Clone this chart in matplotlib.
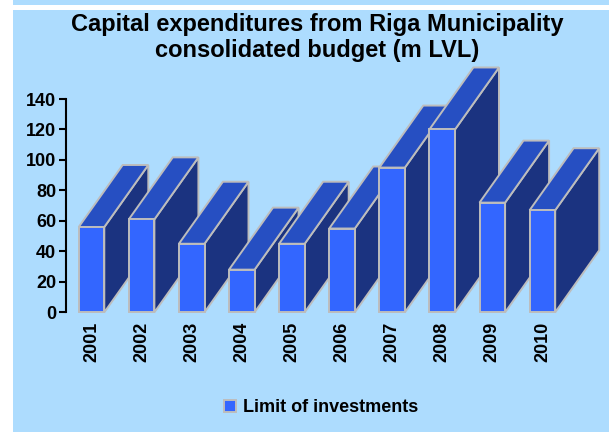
import matplotlib
matplotlib.use('Agg')
import matplotlib.pyplot as plt
from matplotlib.patches import Polygon, Rectangle, Patch

plt.rcParams['font.family'] = ['Liberation Sans', 'DejaVu Sans']
plt.rcParams['font.weight'] = 'bold'

# data
years = ['2001', '2002', '2003', '2004', '2005', '2006', '2007', '2008', '2009', '2010']
values = [56, 61, 45, 28, 45, 55, 95, 120, 72, 67]
series_name = 'Limit of investments'
title = 'Capital expenditures from Riga Municipality\nconsolidated budget (m LVL)'

W, H = 609, 432
bg = '#ADDCFE'
c_front = '#3366FF'
c_top = '#264FC2'
c_side = '#1B3380'
c_edge = '#BDBDBD'

fig = plt.figure(figsize=(W / 100, H / 100), dpi=100)
fig.patch.set_facecolor('white')

# background panels (figure pixel coords -> fractions)
def fig_rect(x0, y0, x1, y1, color):
    fig.patches.append(Rectangle((x0 / W, 1 - y1 / H), (x1 - x0) / W, (y1 - y0) / H,
                                 transform=fig.transFigure, facecolor=color,
                                 edgecolor='none', zorder=-10))

fig_rect(13, 0, W, 4.7, bg)
fig_rect(13, 9.7, W, H, bg)

# axes geometry
px_per_x = 50.1          # one bar step
px_per_y = 1.5235        # pixels per unit
y0_px = 312.3
x_left = -0.51
x_right = (W - 91.5) / px_per_x
y_top = 170
ax_left_px = 91.5 + x_left * px_per_x
ax_top_px = y0_px - y_top * px_per_y
ax = fig.add_axes([ax_left_px / W, 1 - y0_px / H,
                   (W - ax_left_px) / W, (y0_px - ax_top_px) / H])
ax.set_facecolor('none')
ax.set_xlim(x_left, x_right)
ax.set_ylim(0, y_top)

bw = 25.6 / px_per_x
dx = 44 / px_per_x
dy = 62 / px_per_y
lw = 1.4

xs = list(range(len(years)))
bars = ax.bar(xs, values, width=bw, color=c_front, edgecolor=c_edge, linewidth=lw)
for i, (x, v, b) in enumerate(zip(xs, values, bars)):
    z = 3 + i * 3
    l, r = x - bw / 2, x + bw / 2
    side = Polygon([(r, 0), (r + dx, dy), (r + dx, v + dy), (r, v)], closed=True,
                   facecolor=c_side, edgecolor=c_edge, linewidth=lw, zorder=z, clip_on=False)
    top = Polygon([(l, v), (r, v), (r + dx, v + dy), (l + dx, v + dy)], closed=True,
                  facecolor=c_top, edgecolor=c_edge, linewidth=lw, zorder=z + 1, clip_on=False)
    ax.add_patch(side)
    ax.add_patch(top)
    b.set_zorder(z + 2)
    b.set_clip_on(False)

for s in ['top', 'right', 'bottom']:
    ax.spines[s].set_visible(False)
ax.spines['left'].set_bounds(0, 140)
ax.spines['left'].set_linewidth(1.5)
ax.set_yticks(range(0, 141, 20))
ax.tick_params(axis='y', direction='out', length=5, width=1.5, labelsize=13, pad=2)
ax.set_xticks(xs)
ax.set_xticklabels(years, rotation=90, fontsize=13, fontweight='bold')
ax.tick_params(axis='x', length=0, pad=7)
for t in ax.get_yticklabels():
    t.set_fontweight('bold')

fig.text(317.5 / W, 1 - 13.5 / H, title, ha='center', va='top', fontsize=17,
         fontweight='bold', linespacing=1.12)

ax.legend(handles=[Patch(facecolor=c_front, edgecolor=c_edge, linewidth=1.4)],
          labels=[series_name], loc='center', bbox_to_anchor=(321 / W, 1 - 408 / H),
          bbox_transform=fig.transFigure, frameon=False, handlelength=0.65,
          handleheight=0.65, handletextpad=0.4, prop={'weight': 'bold', 'size': 13})

fig.savefig('out.png', dpi=100, facecolor='white')
